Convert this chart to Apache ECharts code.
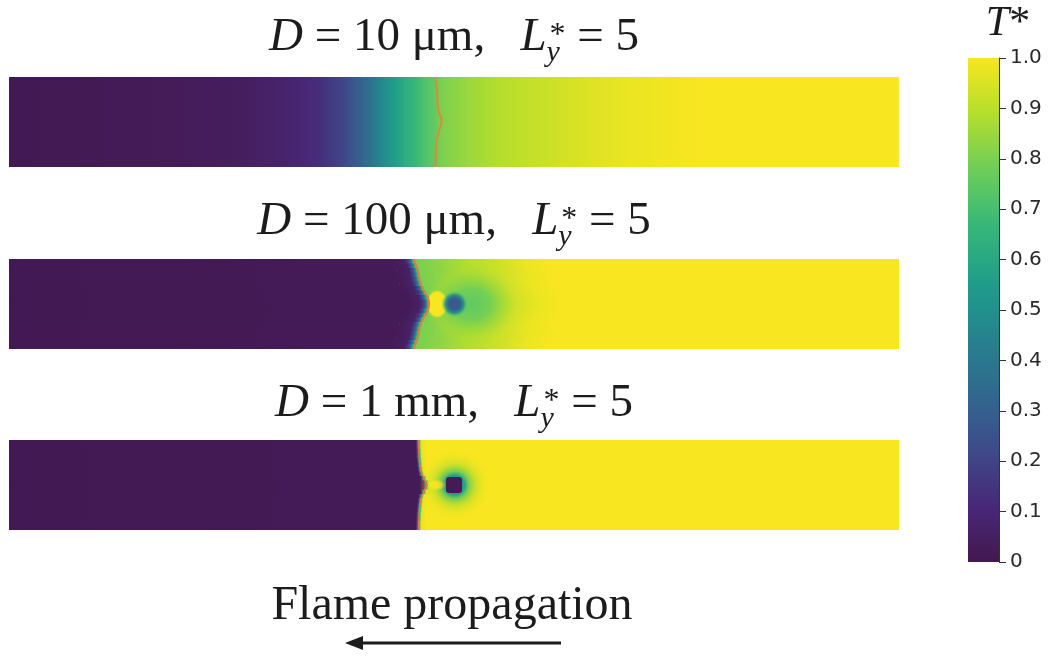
<!DOCTYPE html>
<html>
<head>
<meta charset="utf-8">
<script src="https://cdn.jsdelivr.net/npm/echarts@6.0.0/dist/echarts.min.js"></script>
<style>
  html, body { margin: 0; padding: 0; background: #ffffff; }
  #chart { width: 1050px; height: 658px; }
</style>
</head>
<body>
<div id="chart"></div>
<script>
// ---------------------------------------------------------------------------
// Data: normalised temperature T* in a channel, x in [0, 50], y in [0, 5]
// ---------------------------------------------------------------------------

// viridis colour map (T*, colour)
const viridisStops = [
  [0.000, '#43184f'], [0.111, '#482878'], [0.222, '#3e4a89'], [0.250, '#3b528b'],
  [0.333, '#31688e'], [0.444, '#26828e'], [0.500, '#21918c'], [0.556, '#1f9e89'],
  [0.667, '#35b779'], [0.750, '#5ec962'], [0.778, '#6dcd59'], [0.889, '#b4de2c'],
  [1.000, '#f7e620']
];

// Panel titles
const panelDiameters = ['10 μm,', '100 μm,', '1 mm,'];
const panelLy = '5';

// Temperature profiles across the flame: [x - x_front, T*]
const profile10um = [[-24, 0.01], [-16, 0.02], [-11, 0.04], [-8.2, 0.08], [-6.5, 0.13], [-5.1, 0.22],
  [-4, 0.33], [-2.8, 0.5], [-1.7, 0.62], [-0.7, 0.71], [0, 0.76], [0.3, 0.8], [1.9, 0.85],
  [3.6, 0.89], [5.9, 0.92], [8.1, 0.95], [10.9, 0.98], [14.9, 1.0], [26, 1.0]];
const profile100um = [[-24, 0.01], [-1.2, 0.02], [-0.5, 0.06], [-0.25, 0.25], [-0.1, 0.55], [0, 0.75],
  [0.15, 0.8], [1.0, 0.82], [2.8, 0.88], [4.7, 0.93], [6.2, 0.98], [7.5, 1.0], [28, 1.0]];
const profile1mm = [[-24, 0.01], [-0.15, 0.02], [0, 0.5], [0.15, 0.97], [0.4, 1.0], [28, 1.0]];

// Flame-front position x_front in horizontal bands, from the top wall down
const front10um = [23.96];
const front100um = [22.75, 22.85, 22.95, 23.0, 23.05, 23.12, 23.25, 23.38, 23.5, 23.6,
  23.6, 23.5, 23.38, 23.25, 23.12, 23.05, 23.0, 22.95, 22.85, 22.75];
const front1mm = [23.0, 23.0, 23.02, 23.03, 23.05, 23.07, 23.1, 23.15, 23.3, 23.45,
  23.45, 23.3, 23.15, 23.1, 23.07, 23.05, 23.03, 23.02, 23.0, 23.0];

// Reaction-zone isoline [x, y]
const flameLine10um = [[23.96, 5], [24.05, 4.2], [24.1, 3.3], [24.3, 2.5], [24.15, 2.0], [24.0, 1.2], [23.96, 0]];
const flameLine100um = [[22.72, 5], [22.95, 4.39], [23.06, 3.83], [23.28, 3.28], [23.51, 2.89], [23.6, 2.5],
  [23.51, 2.11], [23.28, 1.72], [23.06, 1.17], [22.95, 0.61], [22.72, 0]];
const flameLine1mm = [[23.0, 5], [23.05, 3.9], [23.12, 3.3], [23.3, 2.9], [23.5, 2.5], [23.3, 2.1],
  [23.12, 1.7], [23.05, 1.1], [23.0, 0]];

// Regions around the particle: [centre x, centre y, radius x, radius y, left edge]
const spots100um = [[26.0, 2.5, 2.6, 2.2, 0], [24.05, 2.5, 0.62, 0.8, 23.6], [25.03, 2.5, 0.75, 0.74, 0]];
// their radial T* profiles: [relative radius, T*, opacity]
const spotStops100um = [
  [[0, 0.75, 1], [0.4, 0.78, 0.9], [0.75, 0.85, 0.5], [1, 0.9, 0]],
  [[0, 1, 1], [0.8, 1, 1], [1, 0.95, 0]],
  [[0, 0.27, 1], [0.45, 0.3, 1], [0.7, 0.5, 0.9], [1, 0.75, 0]]
];
const spots1mm = [[25.05, 2.5, 2.0, 1.95, 0], [24.0, 2.5, 0.6, 0.32, 23.45]];
const spotStops1mm = [
  [[0, 0.55, 1], [0.27, 0.6, 1], [0.38, 0.8, 1], [0.6, 0.92, 0.85], [1, 1, 0]],
  [[0, 1, 1], [0.5, 1, 0.9], [1, 1, 0]]
];
// Solid particle: [centre x, centre y, half width, half height, T*]
const core1mm = [[25.0, 2.5, 0.45, 0.44, 0.02]];

// Colour-bar range
const colorbarRange = [[0, 1]];

// ---------------------------------------------------------------------------
// Colour helpers
// ---------------------------------------------------------------------------
function hexRgb(h) {
  return [parseInt(h.slice(1, 3), 16), parseInt(h.slice(3, 5), 16), parseInt(h.slice(5, 7), 16)];
}
const viridisRgb = viridisStops.map(([t, h]) => [t, hexRgb(h)]);
function cmapArr(t) {
  t = Math.max(0, Math.min(1, t));
  for (let i = 0; i < viridisRgb.length - 1; i++) {
    const [ta, ca] = viridisRgb[i], [tb, cb] = viridisRgb[i + 1];
    if (t <= tb) {
      const f = (t - ta) / (tb - ta);
      return ca.map((v, k) => Math.round(v + (cb[k] - v) * f));
    }
  }
  return viridisRgb[viridisRgb.length - 1][1];
}
function cmap(t) { const c = cmapArr(t); return 'rgb(' + c.join(',') + ')'; }
function cmapRGBA(t, a) { const c = cmapArr(t); return 'rgba(' + c.join(',') + ',' + a + ')'; }
function rampStops(t0, t1) {
  const stops = [{ offset: 0, color: cmap(t0) }];
  if (t1 !== t0) {
    viridisStops.forEach(([t]) => {
      const f = (t - t0) / (t1 - t0);
      if (f > 0 && f < 1) stops.push({ offset: f, color: cmap(t) });
    });
  }
  stops.push({ offset: 1, color: cmap(t1) });
  stops.sort((a, b) => a.offset - b.offset);
  return stops;
}

// ---------------------------------------------------------------------------
// Field cells: each band between two profile knots is one cell
// ---------------------------------------------------------------------------
function bandItems(front, profile) {
  const h = 5 / front.length, items = [];
  front.forEach((xf, j) => {
    const yTop = 5 - j * h, yBot = yTop - h;
    for (let k = 0; k < profile.length - 1; k++) {
      items.push([xf + profile[k][0], xf + profile[k + 1][0], yBot, yTop, profile[k][1], profile[k + 1][1]]);
    }
  });
  return items;
}

function renderBand(params, api) {
  const a = api.coord([api.value(0), api.value(3)]);
  const b = api.coord([api.value(1), api.value(2)]);
  const cs = params.coordSys;
  const shape = echarts.graphic.clipRectByRect(
    { x: a[0], y: a[1], width: b[0] - a[0] + 0.6, height: b[1] - a[1] + 0.6 },
    { x: cs.x, y: cs.y, width: cs.width, height: cs.height });
  if (!shape) return null;
  return {
    type: 'rect', shape: shape, silent: true,
    style: { fill: new echarts.graphic.LinearGradient(a[0], 0, b[0], 0, rampStops(api.value(4), api.value(5)), true) }
  };
}

function spotRenderer(stopsList) {
  return function (params, api) {
    const cx = api.value(0), cy = api.value(1);
    const c = api.coord([cx, cy]);
    const e = api.coord([cx + api.value(2), cy + api.value(3)]);
    const rxPx = Math.abs(e[0] - c[0]), ryPx = Math.abs(e[1] - c[1]);
    const cs = params.coordSys;
    const left = Math.max(cs.x, api.coord([api.value(4), cy])[0]);
    const stops = stopsList[params.dataIndex].map(([o, t, al]) => ({ offset: o, color: cmapRGBA(t, al) }));
    return {
      type: 'group', silent: true,
      clipPath: { type: 'rect', shape: { x: left, y: cs.y, width: cs.x + cs.width - left, height: cs.height } },
      children: [{
        type: 'circle', shape: { cx: c[0], cy: c[1], r: ryPx },
        originX: c[0], originY: c[1], scaleX: rxPx / ryPx,
        style: { fill: new echarts.graphic.RadialGradient(0.5, 0.5, 0.5, stops) }
      }]
    };
  };
}

function renderCore(params, api) {
  const p = api.coord([api.value(0) - api.value(2), api.value(1) + api.value(3)]);
  const q = api.coord([api.value(0) + api.value(2), api.value(1) - api.value(3)]);
  return {
    type: 'rect', silent: true,
    shape: { x: p[0], y: p[1], width: q[0] - p[0], height: q[1] - p[1], r: 3 },
    style: { fill: cmap(api.value(4)), shadowBlur: 8, shadowColor: cmap(0.48) }
  };
}

function renderColorbar(params, api) {
  const p = api.coord([0, api.value(1)]);
  const q = api.coord([1, api.value(0)]);
  return {
    type: 'rect', silent: true,
    shape: { x: p[0], y: p[1], width: q[0] - p[0], height: q[1] - p[1] },
    style: { fill: new echarts.graphic.LinearGradient(0, q[1], 0, p[1], rampStops(api.value(0), api.value(1)), true) }
  };
}

// ---------------------------------------------------------------------------
// Panels
// ---------------------------------------------------------------------------
const panels = [
  { front: front10um, profile: profile10um, spots: [], stops: [], cores: [], line: flameLine10um,
    lineColor: '#e2873b', lineWidth: 2, smooth: 0.5, top: 77 },
  { front: front100um, profile: profile100um, spots: spots100um, stops: spotStops100um, cores: [], line: flameLine100um,
    lineColor: '#e27a3e', lineWidth: 2, smooth: 0.5, top: 259 },
  { front: front1mm, profile: profile1mm, spots: spots1mm, stops: spotStops1mm, cores: core1mm, line: flameLine1mm,
    lineColor: '#e6763a', lineWidth: 1.5, smooth: 0, top: 440 }
];

const grids = [], xAxes = [], yAxes = [], series = [];
panels.forEach((p, i) => {
  grids.push({ left: 9, top: p.top, width: 890, height: 90 });
  xAxes.push({ gridIndex: i, type: 'value', min: 0, max: 50, show: false });
  yAxes.push({ gridIndex: i, type: 'value', min: 0, max: 5, show: false });
  series.push({ type: 'custom', xAxisIndex: i, yAxisIndex: i, renderItem: renderBand,
    data: bandItems(p.front, p.profile), encode: { x: [0, 1], y: [2, 3] }, z: 1, silent: true });
  series.push({ type: 'custom', xAxisIndex: i, yAxisIndex: i, renderItem: spotRenderer(p.stops),
    data: p.spots, encode: { x: 0, y: 1 }, z: 2, silent: true });
  series.push({ type: 'custom', xAxisIndex: i, yAxisIndex: i, renderItem: renderCore,
    data: p.cores, encode: { x: 0, y: 1 }, z: 3, silent: true });
  series.push({ type: 'line', xAxisIndex: i, yAxisIndex: i, data: p.line, showSymbol: false, smooth: p.smooth,
    lineStyle: { color: p.lineColor, width: p.lineWidth }, z: 4, silent: true });
});

// Colour bar
grids.push({ left: 968, top: 58, width: 31, height: 504 });
xAxes.push({ gridIndex: 3, type: 'value', min: 0, max: 1, show: false });
yAxes.push({
  gridIndex: 3, type: 'value', min: 0, max: 1, interval: 0.1, position: 'right', z: 10,
  axisLine: { show: true, onZero: false, lineStyle: { color: '#333333', width: 1 } },
  axisTick: { show: true, inside: false, length: 7, lineStyle: { color: '#333333', width: 1 } },
  splitLine: { show: false },
  axisLabel: { fontSize: 20, color: '#2a2a2a', fontFamily: 'DejaVu Sans', margin: 11,
    formatter: v => (v === 0 ? '0' : v.toFixed(1)) }
});
series.push({ type: 'custom', xAxisIndex: 3, yAxisIndex: 3, renderItem: renderColorbar,
  data: colorbarRange, encode: { y: [0, 1] }, z: 1, silent: true });

// ---------------------------------------------------------------------------
// Text
// ---------------------------------------------------------------------------
const measureCtx = document.createElement('canvas').getContext('2d');
const SERIF = 'Liberation Serif';
function fontOf(q) { return (q.italic ? 'italic ' : '') + q.size + 'px "' + SERIF + '"'; }
function textWidth(q) { measureCtx.font = fontOf(q); return measureCtx.measureText(q.text).width; }

function textLine(pieces, cx, baseline) {
  const widths = pieces.map(parts => Math.max(...parts.map(q => textWidth(q) + (q.dx || 0))));
  const total = widths.reduce((s, w) => s + w, 0);
  let x = cx - total / 2;
  const els = [];
  pieces.forEach((parts, i) => {
    parts.forEach(q => {
      els.push({
        type: 'text', silent: true,
        x: x + (q.dx || 0), y: baseline + (q.dy || 0) - 0.3375 * q.size,
        style: {
          text: q.text, fontSize: q.size, fontFamily: SERIF, fontStyle: q.italic ? 'italic' : 'normal',
          fill: '#1c1c1c', align: 'left', verticalAlign: 'middle', textAlign: 'left', textVerticalAlign: 'middle'
        }
      });
    });
    x += widths[i];
  });
  return els;
}

function panelTitle(diam) {
  return [
    [{ text: 'D', size: 47, italic: true }],
    [{ text: ' = ' + diam, size: 47 }],
    [{ text: '   ', size: 47 }],
    [{ text: 'L', size: 47, italic: true }],
    [{ text: '*', size: 32, dy: -8, dx: 3 }, { text: 'y', size: 30, italic: true, dy: 9, dx: 0 }],
    [{ text: ' = ' + panelLy, size: 47 }]
  ];
}

const titleBaselines = [54, 238, 420];
let graphics = [];
panelDiameters.forEach((d, i) => { graphics = graphics.concat(textLine(panelTitle(d), 454, titleBaselines[i])); });
graphics = graphics.concat(textLine([[{ text: 'T', size: 42, italic: true }], [{ text: '*', size: 42 }]], 1008, 38));
graphics = graphics.concat(textLine([[{ text: 'Flame propagation', size: 48 }]], 452, 623));
// direction arrow
graphics.push({ type: 'line', silent: true, shape: { x1: 561, y1: 643, x2: 358, y2: 643 },
  style: { stroke: '#1c1c1c', lineWidth: 3 } });
graphics.push({ type: 'polygon', silent: true, shape: { points: [[345, 643], [363, 636], [363, 650]] },
  style: { fill: '#1c1c1c' } });

const chart = echarts.init(document.getElementById('chart'), null, { renderer: 'canvas' });
chart.setOption({
  animation: false,
  backgroundColor: '#ffffff',
  grid: grids,
  xAxis: xAxes,
  yAxis: yAxes,
  series: series,
  graphic: { elements: graphics }
});
</script>
</body>
</html>
